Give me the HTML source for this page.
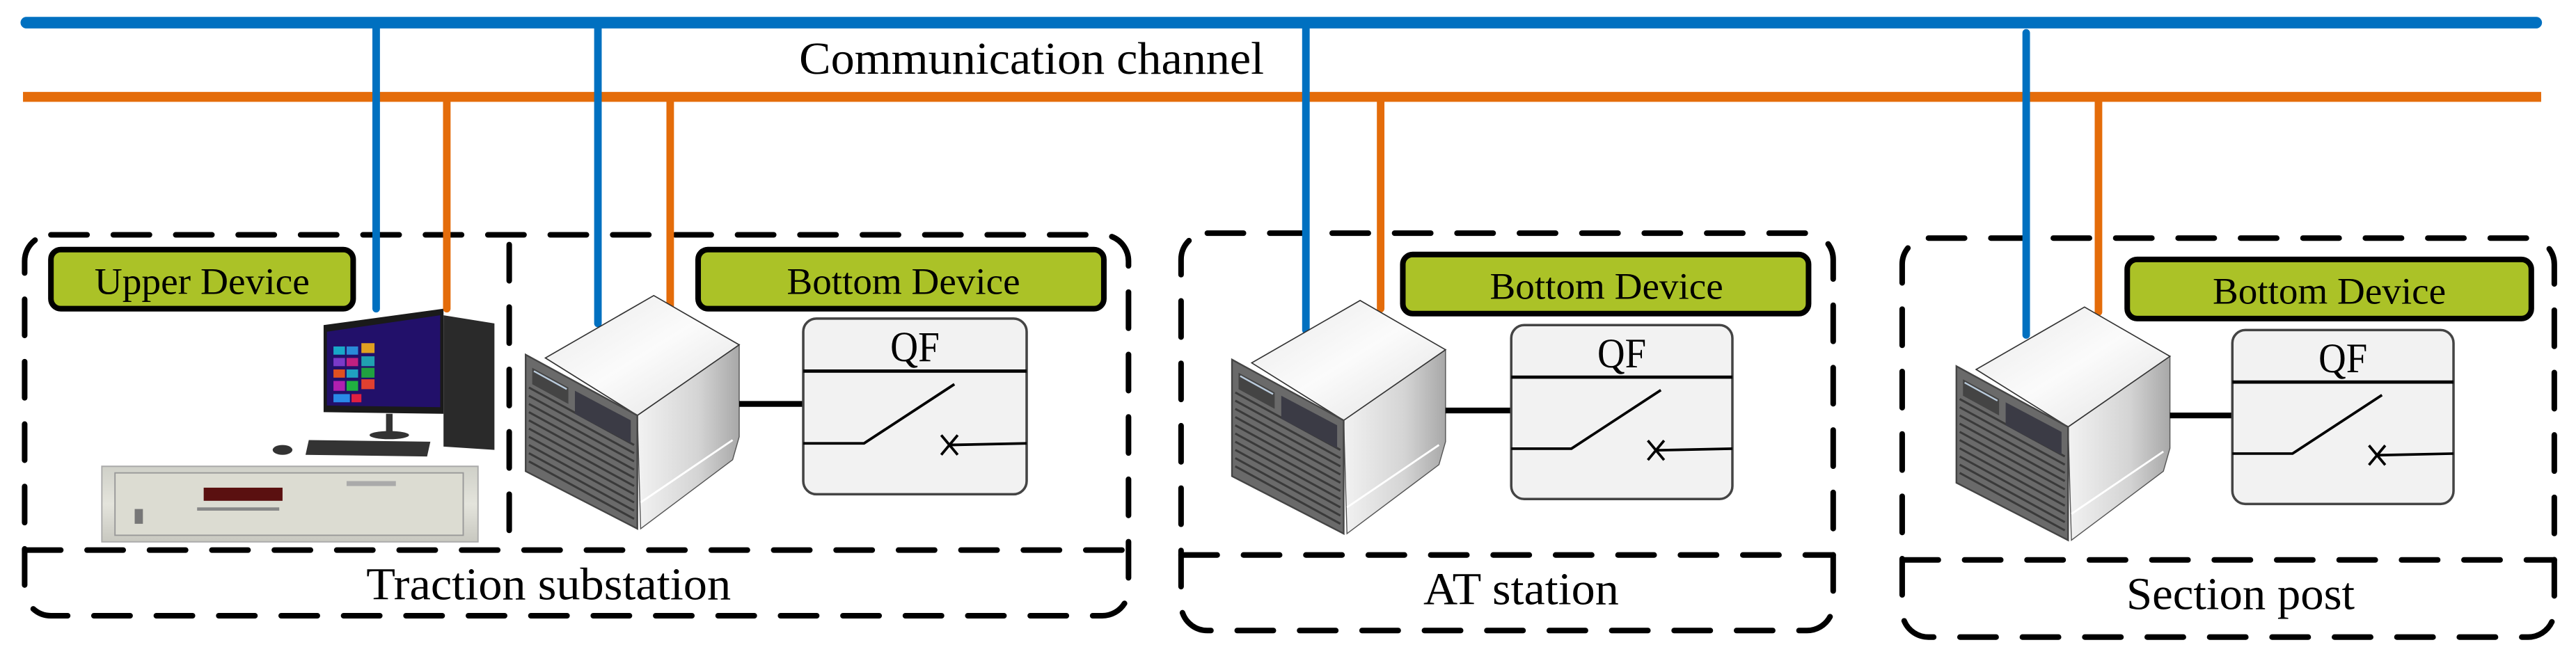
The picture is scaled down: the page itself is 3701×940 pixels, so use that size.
<!DOCTYPE html>
<html><head><meta charset="utf-8"><style>
html,body{margin:0;padding:0;background:#fff;}
svg{display:block;}
text{font-family:"Liberation Serif",serif;fill:#000;}
</style></head><body>
<svg width="3701" height="940" viewBox="0 0 1568.2 398.3" xmlns="http://www.w3.org/2000/svg">
<defs>
<linearGradient id="top" x1="0" y1="0" x2="1" y2="1"><stop offset="0" stop-color="#e9e9e9"/><stop offset="0.5" stop-color="#fbfbfb"/><stop offset="1" stop-color="#e0e0e0"/></linearGradient>
<linearGradient id="side" x1="0" y1="0" x2="1" y2="0"><stop offset="0" stop-color="#f2f2f2"/><stop offset="0.6" stop-color="#d4d4d4"/><stop offset="1" stop-color="#a8a8a8"/></linearGradient>
<linearGradient id="rack" x1="0" y1="0" x2="0" y2="1"><stop offset="0" stop-color="#cfd0c8"/><stop offset="0.5" stop-color="#e4e4dc"/><stop offset="1" stop-color="#c8c8c0"/></linearGradient>
<g id="server">
  <polygon points="388,253 450,210 450,266 446,280 390,322" fill="url(#side)" stroke="#555" stroke-width="0.6"/>
  <line x1="390" y1="306" x2="446" y2="268" stroke="#fff" stroke-width="1.2"/>
  <polygon points="398,180 450,210 388,253 332,218" fill="url(#top)" stroke="#333" stroke-width="0.7"/>
  <polygon points="320,216 388,253 388,322 320,287" fill="#6a6a6a" stroke="#444" stroke-width="1"/>
  <g stroke="#3a3a3a" stroke-width="1.3">
    <line x1="322" y1="236" x2="386" y2="271"/><line x1="322" y1="241" x2="386" y2="276"/>
    <line x1="322" y1="246" x2="386" y2="281"/><line x1="322" y1="251" x2="386" y2="286"/>
    <line x1="322" y1="256" x2="386" y2="291"/><line x1="322" y1="261" x2="386" y2="296"/>
    <line x1="322" y1="266" x2="386" y2="301"/><line x1="322" y1="271" x2="386" y2="306"/>
    <line x1="322" y1="276" x2="386" y2="311"/><line x1="322" y1="281" x2="386" y2="316"/>
  </g>
  <polygon points="324,224 346,236 346,246 324,234" fill="#444"/>
  <line x1="325" y1="226" x2="345" y2="237" stroke="#bcd" stroke-width="1"/>
  <polygon points="350,238 384,256 384,270 350,252" fill="#3b3b45"/>
</g>
<g id="qf">
  <rect x="489" y="194" width="136" height="107" rx="8" fill="#f2f2f2" stroke="#444" stroke-width="1.5"/>
  <line x1="489" y1="226" x2="625" y2="226" stroke="#000" stroke-width="2"/>
  <polyline points="489,270 526,270 581,234" fill="none" stroke="#000" stroke-width="1.6"/>
  <line x1="578" y1="271" x2="625" y2="270" stroke="#000" stroke-width="1.6"/>
  <line x1="573" y1="265" x2="583" y2="277" stroke="#000" stroke-width="1.6"/>
  <line x1="583" y1="265" x2="573" y2="277" stroke="#000" stroke-width="1.6"/>
  <text x="557" y="220" font-size="26" text-anchor="middle" textLength="30" lengthAdjust="spacingAndGlyphs">QF</text>
</g>
</defs>

<line x1="16" y1="13.8" x2="1544" y2="13.8" stroke="#0070c0" stroke-width="7" stroke-linecap="round"/>
<line x1="14" y1="59" x2="1547" y2="59" stroke="#e46c0a" stroke-width="6"/>
<text x="628" y="45" font-size="28" text-anchor="middle" textLength="283" lengthAdjust="spacingAndGlyphs">Communication channel</text>

<g fill="none" stroke="#000" stroke-width="3.4" stroke-dasharray="22 16" stroke-linecap="round">
  <rect x="15" y="143" width="672" height="232" rx="16"/>
  <line x1="15" y1="335" x2="687" y2="335"/>
  <line x1="310" y1="149" x2="310" y2="330"/>
  <rect x="719" y="142" width="397" height="242" rx="16"/>
  <line x1="719" y1="338" x2="1116" y2="338"/>
  <rect x="1158" y="145" width="397" height="243" rx="16"/>
  <line x1="1158" y1="341" x2="1555" y2="341"/>
</g>

<g fill="#abc227" stroke="#000" stroke-width="3.4">
  <rect x="31" y="152" width="184" height="36" rx="6"/>
  <rect x="425" y="152" width="247" height="36" rx="6"/>
  <rect x="854" y="155" width="247" height="36" rx="6"/>
  <rect x="1295" y="158" width="246" height="36" rx="6"/>
</g>
<text x="123" y="179" font-size="23" text-anchor="middle" textLength="131" lengthAdjust="spacingAndGlyphs">Upper Device</text>
<text x="550" y="179" font-size="23" text-anchor="middle" textLength="142" lengthAdjust="spacingAndGlyphs">Bottom Device</text>
<text x="978" y="182" font-size="23" text-anchor="middle" textLength="142" lengthAdjust="spacingAndGlyphs">Bottom Device</text>
<text x="1418" y="185" font-size="23" text-anchor="middle" textLength="142" lengthAdjust="spacingAndGlyphs">Bottom Device</text>

<polygon points="62,284 291,284 291,330 62,330" fill="url(#rack)" stroke="#aaa" stroke-width="0.8"/>
<rect x="70" y="288" width="212" height="38" fill="#dcdcd2" stroke="#999" stroke-width="0.8"/>
<rect x="124" y="297" width="48" height="8" fill="#5a1010"/>
<rect x="82" y="310" width="5" height="9" fill="#777"/>
<rect x="211" y="293" width="30" height="3" fill="#aaa"/>
<rect x="120" y="309" width="50" height="2" fill="#888"/>
<polygon points="197,198 270,188 270,252 197,251" fill="#1a1a1a"/>
<polygon points="199,202 268,192 268,248 199,247" fill="#22106a"/>
<g><rect x="203" y="211" width="7" height="5" fill="#18a8c8"/><rect x="211" y="211" width="7" height="5" fill="#2a8ad8"/><rect x="220" y="209" width="8" height="6" fill="#e0a020"/>
<rect x="203" y="218" width="7" height="5" fill="#7a3ac8"/><rect x="211" y="218" width="7" height="5" fill="#c02080"/><rect x="220" y="217" width="8" height="6" fill="#20a0b0"/>
<rect x="203" y="225" width="7" height="5" fill="#e05020"/><rect x="211" y="225" width="7" height="5" fill="#20a0c0"/><rect x="220" y="224" width="8" height="6" fill="#20a040"/>
<rect x="203" y="232" width="7" height="6" fill="#b020b0"/><rect x="211" y="232" width="7" height="6" fill="#20b040"/><rect x="220" y="231" width="8" height="6" fill="#e04030"/>
<rect x="203" y="240" width="10" height="5" fill="#2a8ae8"/><rect x="214" y="240" width="6" height="5" fill="#e02040"/></g>
<rect x="235" y="252" width="4" height="12" fill="#333"/>
<ellipse cx="237" cy="265" rx="12" ry="2.5" fill="#333"/>
<polygon points="270,192 301,197 301,274 270,272" fill="#2a2a2a"/>
<polygon points="188,268 262,269 260,278 186,277" fill="#333"/>
<ellipse cx="172" cy="274" rx="6" ry="3" fill="#333"/>

<g stroke-width="4.6" stroke-linecap="round" fill="none">
  <line x1="229" y1="14" x2="229" y2="188" stroke="#0070c0"/>
  <line x1="364" y1="14" x2="364" y2="197" stroke="#0070c0"/>
  <line x1="795" y1="14" x2="795" y2="201" stroke="#0070c0"/>
  <line x1="1233.5" y1="20" x2="1233.5" y2="204" stroke="#0070c0"/>
  <line x1="272" y1="59" x2="272" y2="188" stroke="#e46c0a"/>
  <line x1="408" y1="59" x2="408" y2="186" stroke="#e46c0a"/>
  <line x1="840.5" y1="59" x2="840.5" y2="188" stroke="#e46c0a"/>
  <line x1="1277.5" y1="59" x2="1277.5" y2="190" stroke="#e46c0a"/>
</g>

<use href="#server"/>
<line x1="450" y1="246" x2="489" y2="246" stroke="#000" stroke-width="3.5"/>
<use href="#qf"/>

<g transform="translate(430,3)"><use href="#server"/></g>
<line x1="880" y1="250" x2="920" y2="250" stroke="#000" stroke-width="3.5"/>
<g transform="translate(920,198) scale(0.99,0.99) translate(-489,-194)"><use href="#qf"/></g>

<g transform="translate(871,7)"><use href="#server"/></g>
<line x1="1321" y1="253" x2="1359" y2="253" stroke="#000" stroke-width="3.5"/>
<g transform="translate(1359,201) scale(0.99,0.99) translate(-489,-194)"><use href="#qf"/></g>

<text x="334" y="365" font-size="28" text-anchor="middle" textLength="222" lengthAdjust="spacingAndGlyphs">Traction substation</text>
<text x="926" y="368" font-size="28" text-anchor="middle" textLength="119" lengthAdjust="spacingAndGlyphs">AT station</text>
<text x="1364" y="371" font-size="28" text-anchor="middle" textLength="139" lengthAdjust="spacingAndGlyphs">Section post</text>
</svg>
</body></html>
